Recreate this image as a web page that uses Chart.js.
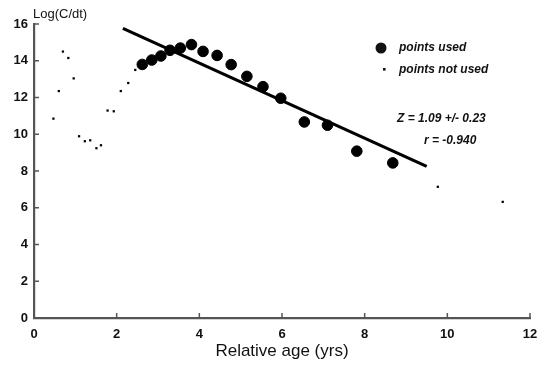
<!DOCTYPE html>
<html>
<head>
<meta charset="utf-8">
<script src="https://cdn.jsdelivr.net/npm/chart.js@4"></script>
<style>
  body { margin: 0; background: #fff; }
  #wrap { width: 550px; height: 372px; }
</style>
</head>
<body>
<div id="wrap"><canvas id="chart"></canvas></div>
<script>
// points used in the fit
const usedX = [2.62, 2.85, 3.07, 3.29, 3.54, 3.81, 4.09, 4.43, 4.77, 5.15, 5.54, 5.97, 6.54, 7.10, 7.81, 8.68];
const usedY = [13.80, 14.04, 14.26, 14.57, 14.69, 14.88, 14.51, 14.29, 13.79, 13.15, 12.59, 11.96, 10.67, 10.49, 9.08, 8.44];

// points not used
const notUsedX = [0.47, 0.60, 0.70, 0.83, 0.96, 1.09, 1.23, 1.36, 1.51, 1.62, 1.78, 1.93, 2.10, 2.28, 2.45, 9.77, 11.34];
const notUsedY = [10.85, 12.35, 14.50, 14.15, 13.04, 9.89, 9.62, 9.67, 9.24, 9.40, 11.29, 11.25, 12.35, 12.79, 13.50, 7.14, 6.32];

// regression line end points
const fitX = [2.15, 9.50];
const fitY = [15.76, 8.25];

const xTicks = [0, 2, 4, 6, 8, 10, 12];
const yTicks = [0, 2, 4, 6, 8, 10, 12, 14, 16];

const toPts = (xs, ys) => xs.map((x, i) => ({ x: x, y: ys[i] }));

// small inward ticks, axis title, legend and fit text
const extras = {
    id: 'extras',
    afterDraw(chart) {
        const ctx = chart.ctx;
        const xs = chart.scales.x, ys = chart.scales.y;
        const area = chart.chartArea;
        ctx.save();
        ctx.strokeStyle = '#555';
        ctx.lineWidth = 1.5;
        xTicks.slice(1).forEach(v => {
            const px = xs.getPixelForValue(v);
            ctx.beginPath();
            ctx.moveTo(px, area.bottom);
            ctx.lineTo(px, area.bottom - 5);
            ctx.stroke();
        });
        yTicks.slice(1).forEach(v => {
            const py = ys.getPixelForValue(v);
            ctx.beginPath();
            ctx.moveTo(area.left, py);
            ctx.lineTo(area.left + 5, py);
            ctx.stroke();
        });

        ctx.fillStyle = '#111';
        ctx.textBaseline = 'middle';
        ctx.textAlign = 'left';
        ctx.font = '13px "Liberation Sans", Arial, sans-serif';
        ctx.fillText('Log(C/dt)', 33, 14);

        // legend
        ctx.beginPath();
        ctx.arc(381, 48, 5.5, 0, Math.PI * 2);
        ctx.fill();
        ctx.fillRect(383, 68, 2.6, 2.6);
        ctx.font = 'italic bold 12px "Liberation Sans", Arial, sans-serif';
        ctx.fillText('points used', 399, 48);
        ctx.fillText('points not used', 399, 70);

        ctx.fillText('Z = 1.09 +/- 0.23', 397, 119);
        ctx.fillText('r = -0.940', 424, 141);
        ctx.restore();
    }
};

new Chart(document.getElementById('chart'), {
    type: 'scatter',
    data: {
        datasets: [
            {
                label: 'fit',
                type: 'line',
                data: toPts(fitX, fitY),
                borderColor: '#000',
                borderWidth: 3.2,
                pointRadius: 0,
                fill: false
            },
            {
                label: 'points used',
                data: toPts(usedX, usedY),
                backgroundColor: '#000',
                borderColor: '#000',
                pointRadius: 5.3
            },
            {
                label: 'points not used',
                data: toPts(notUsedX, notUsedY),
                backgroundColor: '#000',
                borderColor: '#000',
                pointStyle: 'rect',
                pointRadius: 1.6,
                borderWidth: 0
            }
        ]
    },
    options: {
        responsive: true,
        maintainAspectRatio: false,
        animation: false,
        layout: { padding: { top: 24, right: 20, left: 0, bottom: 0 } },
        plugins: {
            legend: { display: false },
            tooltip: { enabled: false }
        },
        scales: {
            x: {
                type: 'linear',
                min: 0,
                max: 12,
                afterBuildTicks: (s) => { s.ticks = xTicks.map(v => ({ value: v })); },
                afterFit: (s) => { s.height = 54; },
                grid: { display: true, drawOnChartArea: false, drawTicks: false },
                border: { display: true, color: '#555', width: 2.2 },
                ticks: {
                    color: '#111',
                    padding: 9,
                    font: { family: '"Liberation Sans", Arial, sans-serif', size: 13, weight: 'bold' }
                },
                title: {
                    display: true,
                    text: 'Relative age (yrs)',
                    color: '#111',
                    padding: { top: 2, bottom: 10 },
                    font: { family: '"Liberation Sans", Arial, sans-serif', size: 17 }
                }
            },
            y: {
                type: 'linear',
                min: 0,
                max: 16,
                afterBuildTicks: (s) => { s.ticks = yTicks.map(v => ({ value: v })); },
                afterFit: (s) => { s.width = 34; },
                grid: { display: true, drawOnChartArea: false, drawTicks: false },
                border: { display: true, color: '#555', width: 2.2 },
                ticks: {
                    color: '#111',
                    padding: 6,
                    font: { family: '"Liberation Sans", Arial, sans-serif', size: 13, weight: 'bold' }
                }
            }
        }
    },
    plugins: [extras]
});
</script>
</body>
</html>
